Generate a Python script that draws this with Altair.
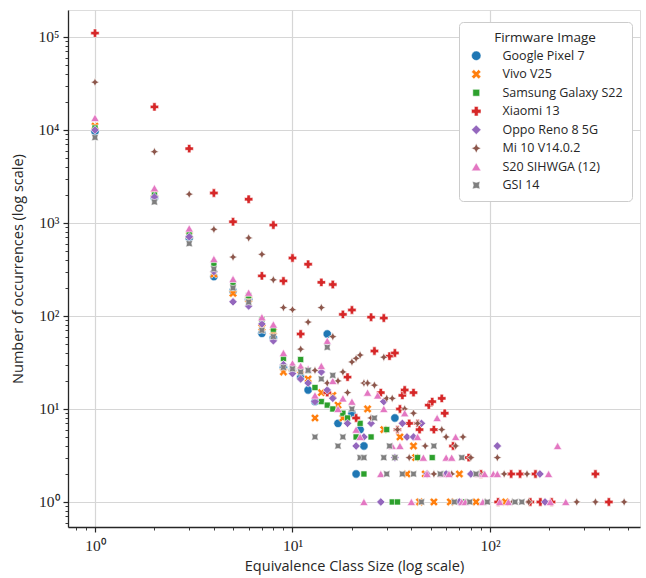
import altair as alt
import pandas as pd

series_names = ["Google Pixel 7", "Vivo V25", "Samsung Galaxy S22", "Xiaomi 13",
                "Oppo Reno 8 5G", "Mi 10 V14.0.2", "S20 SIHWGA (12)", "GSI 14"]
colors = ["#1f77b4", "#ff7f0e", "#2ca02c", "#d62728",
          "#9467bd", "#8c564b", "#e377c2", "#7f7f7f"]
shapes = [
    "circle",
    "M-1,-0.5L-0.5,-1L0,-0.5L0.5,-1L1,-0.5L0.5,0L1,0.5L0.5,1L0,0.5L-0.5,1L-1,0.5L-0.5,0Z",
    "M-0.72,-0.72L0.72,-0.72L0.72,0.72L-0.72,0.72Z",
    "cross",
    "diamond",
    "M0,-1L0.33,-0.33L1,0L0.33,0.33L0,1L-0.33,0.33L-1,0L-0.33,-0.33Z",
    "triangle-up",
    "M-0.8,-0.8L0,-0.6L0.8,-0.8L0.6,0L0.8,0.8L0,0.6L-0.8,0.8L-0.6,0Z",
]

pixel7_x = [1, 2, 3, 4, 5, 6, 7, 8, 9, 10, 11, 12, 13, 15, 17, 20, 21, 22, 23, 33]
pixel7_y = [9600, 1850, 690, 265, 185, 150, 65, 58, 28, 26, 22, 16, 12, 64, 7, 9, 2, 6, 4, 8]

vivo_x = [1, 2, 3, 4, 5, 6, 7, 8, 9, 10, 11, 12, 13, 14, 16, 17, 18, 24, 29, 35,
          41, 38, 42, 44, 47, 52, 63, 70, 85, 120]
vivo_y = [11000, 2070, 740, 282, 175, 152, 75, 68, 25, 27, 26, 21, 8, 15, 14, 11, 8, 10, 6, 5,
          4, 2, 3, 1, 2, 1, 1, 2, 1, 1]

samsung_x = [1, 2, 3, 4, 5, 6, 7, 8, 9, 10, 11, 12, 13, 14, 15, 16, 18, 19, 21, 22,
             23, 25, 30, 32, 34, 43, 51, 60, 75, 90]
samsung_y = [10500, 2000, 775, 363, 215, 165, 92, 72, 35, 28, 34, 26, 17, 12, 11, 10, 9, 8, 5, 7,
             2, 5, 6, 1, 1, 3, 3, 2, 1, 2]

xiaomi_x = [1, 2, 3, 4, 5, 6, 7, 8, 9, 10, 11, 12, 14, 15, 16, 18, 19, 20, 21, 25,
            26, 28, 29, 31, 33, 34, 35, 36, 37, 39, 41, 43, 44, 49, 51, 52, 57, 59, 65, 78,
            90, 110, 128, 142, 160, 170, 180, 205, 342, 400]
xiaomi_y = [110000, 17700, 6300, 2100, 1030, 1800, 270, 950, 238, 420, 64, 360, 230, 15, 218, 104, 22, 116, 8, 97,
            42, 15, 95, 37, 40, 6, 10, 14, 16, 7, 15, 7, 6, 11, 12, 6, 13, 9, 4, 3,
            2, 1, 2, 2, 1, 2, 1, 1, 2, 1]

oppo_x = [1, 2, 3, 4, 5, 6, 7, 8, 9, 10, 11, 12, 13, 14, 15, 16, 19, 21, 23, 25,
          28, 29, 33, 36, 38, 41, 45, 48, 60, 70, 80, 109, 179, 190]
oppo_y = [10000, 1900, 710, 300, 142, 128, 82, 54, 30, 24, 21, 19, 12, 25, 16, 13, 7, 4, 5, 7,
          1, 12, 3, 7, 5, 5, 7, 2, 2, 1, 2, 4, 2, 1]

mi10_x = [1, 2, 3, 4, 5, 6, 7, 8, 9, 10, 11, 12, 13, 14, 15, 16, 17, 18, 19, 20,
          21, 22, 23, 24, 25, 26, 29, 30, 32, 34, 37, 39, 41, 43, 47, 52, 57, 60, 64, 67,
          73, 80, 88, 95, 109, 118, 130, 154, 157, 275, 342, 478]
mi10_y = [32600, 5840, 2040, 855, 430, 690, 460, 245, 123, 117, 44, 86, 26, 123, 19, 60, 20, 25, 15, 32,
          35, 38, 19, 19, 8, 18, 36, 13, 13, 6, 10, 3, 9, 7, 4, 2, 6, 5, 2, 4,
          5, 3, 2, 1, 3, 2, 1, 2, 1, 1, 1, 1]

s20_x = [1, 2, 3, 4, 5, 6, 7, 8, 9, 10, 11, 12, 13, 14, 15, 16, 17, 18, 20, 21,
         22, 23, 24, 27, 28, 29, 32, 35, 37, 40, 43, 46, 48, 54, 57, 60, 62, 64, 67, 72,
         75, 87, 92, 94, 104, 109, 112, 124, 198, 202, 220, 242]
s20_y = [13500, 2370, 875, 410, 250, 178, 97, 81, 40, 31, 29, 27, 14, 29, 54, 20, 10, 13, 12, 6,
         5, 1, 15, 14, 2, 10, 4, 4, 9, 1, 5, 3, 2, 8, 2, 3, 2, 3, 5, 1,
         1, 2, 1, 2, 2, 2, 1, 1, 2, 1, 4, 1]

gsi_x = [1, 2, 3, 4, 5, 6, 7, 8, 9, 10, 11, 12, 13, 14, 15, 16, 17, 18, 20, 22,
         23, 26, 29, 30, 31, 33, 36, 41, 45, 52, 56, 66, 72, 79, 85, 97, 134, 145]
gsi_y = [8300, 1680, 600, 320, 200, 141, 70, 60, 28, 27, 25, 26, 5, 21, 46, 23, 4, 5, 10, 3,
         3, 8, 3, 2, 4, 3, 2, 2, 1, 4, 2, 1, 3, 1, 2, 1, 1, 1]

x_lists = [pixel7_x, vivo_x, samsung_x, xiaomi_x, oppo_x, mi10_x, s20_x, gsi_x]
y_lists = [pixel7_y, vivo_y, samsung_y, xiaomi_y, oppo_y, mi10_y, s20_y, gsi_y]

x_major = [1, 10, 100]
x_minor = [0.8, 0.9, 2, 3, 4, 5, 6, 7, 8, 9, 20, 30, 40, 50, 60, 70, 80, 90, 200, 300, 400, 500]
y_major = [1, 10, 100, 1000, 10000, 100000]
y_minor = [0.6, 0.7, 0.8, 0.9, 2, 3, 4, 5, 6, 7, 8, 9, 20, 30, 40, 50, 60, 70, 80, 90,
           200, 300, 400, 500, 600, 700, 800, 900, 2000, 3000, 4000, 5000, 6000, 7000, 8000, 9000,
           20000, 30000, 40000, 50000, 60000, 70000, 80000, 90000]

rows = []
for name, xs, ys in zip(series_names, x_lists, y_lists):
    for xv, yv in zip(xs, ys):
        rows.append({"size": xv, "count": yv, "Firmware Image": name})
df = pd.DataFrame(rows)

is_major = "abs(log(datum.value)/LN10 - round(log(datum.value)/LN10)) < 0.000001"
label_expr = ("(" + is_major + ") ? '10' + ['⁰','¹','²','³','⁴','⁵'][round(log(datum.value)/LN10)] : ''")

def make_axis(title, values, **kw):
    return alt.Axis(
        title=title,
        values=values,
        labelExpr=label_expr,
        labelOverlap=False,
        labelFont="Liberation Serif",
        labelFontSize=15.5,
        labelColor="#262626",
        tickSize={"condition": {"test": is_major, "value": 5}, "value": 3},
        tickWidth={"condition": {"test": is_major, "value": 1.2}, "value": 0.9},
        tickColor="#262626",
        gridOpacity={"condition": {"test": is_major, "value": 1}, "value": 0},
        gridColor="#d6d6d6",
        gridWidth=1.2,
        domainColor="#262626",
        domainWidth=1.3,
        titleFont="Open Sans",
        titleFontSize=14.5,
        titleFontWeight="normal",
        titleColor="#262626",
        **kw,
    )

chart = alt.Chart(df).mark_point(filled=True, opacity=1, stroke="white", strokeWidth=0.6, size=70).encode(
    x=alt.X("size:Q",
            scale=alt.Scale(type="log", domain=[0.73, 575], nice=False),
            axis=make_axis("Equivalence Class Size (log scale)", x_major + x_minor,
                           labelPadding=6, titlePadding=6)),
    y=alt.Y("count:Q",
            scale=alt.Scale(type="log", domain=[0.538, 195000], nice=False),
            axis=make_axis("Number of occurrences (log scale)", y_major + y_minor,
                           labelPadding=4, titlePadding=13)),
    color=alt.Color("Firmware Image:N",
                    scale=alt.Scale(domain=series_names, range=colors),
                    legend=alt.Legend(
                        orient="none", legendX=391, legendY=12,
                        titleFont="Open Sans", titleFontSize=13.5, titleFontWeight="normal",
                        titleColor="#262626", titleAnchor="middle", titlePadding=5,
                        labelFont="Open Sans", labelFontSize=12.5, labelColor="#262626",
                        symbolSize=90, symbolStrokeColor="white", symbolStrokeWidth=0.5,
                        symbolOffset=2, labelOffset=20, rowPadding=5.5,
                        padding=9, fillColor="white", strokeColor="#cccccc",
                        cornerRadius=4)),
    shape=alt.Shape("Firmware Image:N",
                    scale=alt.Scale(domain=series_names, range=shapes)),
).properties(
    width=572, height=517,
    padding={"left": 68, "top": 10, "right": 6, "bottom": 51},
    autosize=alt.AutoSizeParams(type="none"),
).configure_view(stroke=None).configure(background="white")

chart.save("out.html", embed_options={"renderer": "svg", "actions": False})
